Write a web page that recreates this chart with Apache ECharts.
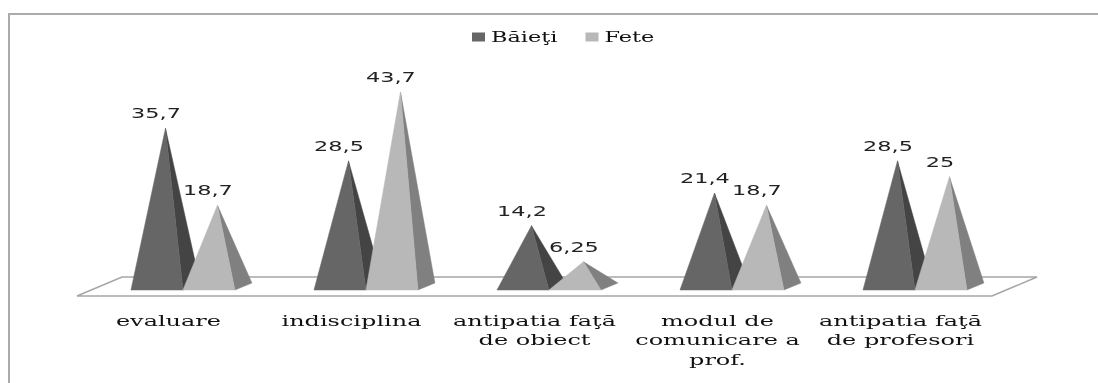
<!DOCTYPE html>
<html><head><meta charset="utf-8">
<style>
html,body{margin:0;padding:0;background:#fff}
#c{width:1098px;height:383px;filter:blur(0.5px)}
</style>
<script src="https://cdn.jsdelivr.net/npm/echarts@6/dist/echarts.min.js"></script>
</head><body><div id="c"></div>
<script>
const categories = ['evaluare','indisciplina','antipatia faţă\nde obiect','modul de\ncomunicare a\nprof.','antipatia faţă\nde profesori'];
const baieti = [35.7,28.5,14.2,21.4,28.5];
const fete = [18.7,43.7,6.25,18.7,25];

function pyramid(front, side, shift){
  return function(params, api){
    const i = api.value(0), v = api.value(1);
    const p = api.coord([i, v]), base = api.coord([i, 0]);
    const band = api.size([1,0])[0];
    const w = band*0.284, dx = 17, dy = 7;
    const l = base[0] + band*shift, r = l + w;
    const ax = l + w/2 + dx/2, ay = p[1];
    return {type:'group', children:[
      {type:'polygon', shape:{points:[[r,base[1]],[r+dx,base[1]-dy],[ax,ay]]}, style:{fill:side, stroke:side, lineWidth:0.5}},
      {type:'polygon', shape:{points:[[l,base[1]],[r,base[1]],[ax,ay]]}, style:{fill:front, stroke:front, lineWidth:0.5}},
      {type:'text', x:ax-9.5, y:ay-15, style:{text:String(v).replace('.',','), x:0, y:0, align:'center', verticalAlign:'middle',
        font:'14px "DejaVu Sans"', fill:'#222'}}
    ]};
  };
}
function floor(params, api){
  const cs = params.coordSys, y0 = api.coord([0,0])[1];
  const l = cs.x, r = cs.x+cs.width, dx = 45;
  return {type:'polygon', shape:{points:[[l,y0+6],[r,y0+6],[r+dx,y0-13],[l+dx,y0-13]]},
    style:{fill:'#fff', stroke:'#a6a6a6', lineWidth:1.5}};
}
const chart = echarts.init(document.getElementById('c'), null, {renderer:'svg'});
chart.setOption({
  animation:false,
  backgroundColor:'#fff',
  graphic:[{type:'polyline', silent:true, shape:{points:[[9,383],[9,14],[1098,14]]}, style:{fill:'none', stroke:'#ababab', lineWidth:2}}],
  legend:{top:25, left:467, itemWidth:13, itemHeight:9, itemGap:53, icon:'rect',
    textStyle:{fontFamily:'"DejaVu Serif"', fontSize:14, color:'#111', padding:[0,0,0,1]},
    data:['Băieţi','Fete']},
  grid:{left:77, right:106, top:63.5, bottom:93},
  xAxis:{type:'category', data:categories, axisLine:{show:false}, axisTick:{show:false},
    axisLabel:{interval:0, margin:21, fontFamily:'"DejaVu Serif"', fontSize:15, lineHeight:19.5, color:'#111', verticalAlign:'top'}},
  yAxis:{type:'value', min:0, max:50, show:false, splitLine:{show:false}},
  series:[
    {type:'custom', name:'floor', renderItem:floor, data:[[0,0]], z:1, silent:true, encode:{x:0,y:1}},
    {type:'custom', name:'Băieţi', itemStyle:{color:'#666666'}, z:2, encode:{x:0,y:1},
      renderItem:pyramid('#666666','#444444',-0.205), data:baieti.map((v,i)=>[i,v])},
    {type:'custom', name:'Fete', itemStyle:{color:'#b8b8b8'}, z:3, encode:{x:0,y:1},
      renderItem:pyramid('#b8b8b8','#808080',0.079), data:fete.map((v,i)=>[i,v])}
  ]
});
// The reference's text is horizontally stretched: widen each rendered label about its anchor.
const STRETCH = 1.6;
document.querySelectorAll('#c svg text').forEach(t=>{
  const b = t.getBBox();
  const anchor = t.getAttribute('text-anchor') || 'start';
  const ax = anchor==='middle' ? b.x+b.width/2 : anchor==='end' ? b.x+b.width : b.x;
  const old = t.getAttribute('transform') || '';
  t.setAttribute('transform', `${old} translate(${ax},0) scale(${STRETCH},1) translate(${-ax},0)`);
});
</script></body></html>
